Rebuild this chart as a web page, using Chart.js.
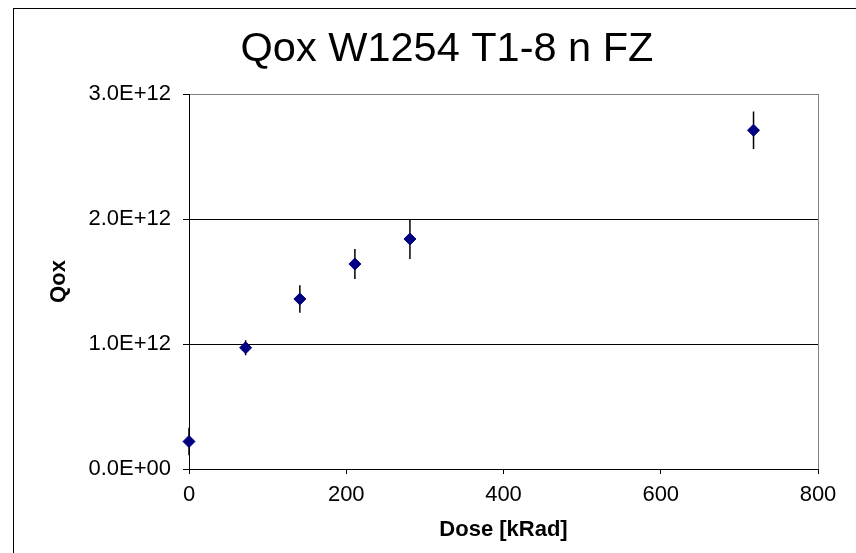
<!DOCTYPE html>
<html>
<head>
<meta charset="utf-8">
<script src="https://cdn.jsdelivr.net/npm/chart.js@4.4.1/dist/chart.umd.min.js"></script>
<style>
  html, body { margin: 0; padding: 0; background: #fff; overflow: hidden; width: 856px; height: 553px; }
  #frame { position: absolute; left: 13px; top: 8px; width: 900px; height: 600px; border: 1px solid #000; }
  #c { position: absolute; left: 0; top: 0; }
</style>
</head>
<body>
<div id="frame"><canvas id="c" width="866" height="560"></canvas></div>
<script>
// data
var doseVals = [0, 72, 141, 211, 281, 718];
var qoxVals = [0.22e12, 0.97e12, 1.36e12, 1.64e12, 1.84e12, 2.71e12];
var qoxErr = [0.11e12, 0.06e12, 0.11e12, 0.12e12, 0.16e12, 0.15e12];
var yTicks = [0, 1e12, 2e12, 3e12];
var xTicks = [0, 200, 400, 600, 800];

var FONT = "'Liberation Sans', Arial, sans-serif";

function sciLabel(v) {
    var s = Number(v).toExponential(1).toUpperCase();
    var parts = s.split('E');
    var exp = parts[1];
    var sign = exp.charAt(0) === '-' ? '-' : '+';
    var digits = exp.replace(/[+-]/, '');
    if (digits.length < 2) digits = '0' + digits;
    return parts[0] + 'E' + sign + digits;
}

// error bars drawn from data through the scales
var errorBars = {
    id: 'errorBars',
    beforeDatasetsDraw: function (chart) {
        var ctx = chart.ctx;
        var xs = chart.scales.x, ys = chart.scales.y;
        ctx.save();
        ctx.strokeStyle = '#000';
        ctx.lineWidth = 1.5;
        for (var i = 0; i < doseVals.length; i++) {
            var px = xs.getPixelForValue(doseVals[i]);
            ctx.beginPath();
            ctx.moveTo(px, ys.getPixelForValue(qoxVals[i] - qoxErr[i]));
            ctx.lineTo(px, ys.getPixelForValue(qoxVals[i] + qoxErr[i]));
            ctx.stroke();
        }
        ctx.restore();
    }
};

// gray frame on right of plot area
var plotFrame = {
    id: 'plotFrame',
    beforeDatasetsDraw: function (chart) {
        var a = chart.chartArea, ctx = chart.ctx;
        ctx.save();
        ctx.strokeStyle = '#808080';
        ctx.lineWidth = 1;
        ctx.beginPath();
        ctx.moveTo(Math.round(a.right) + 0.5, a.top);
        ctx.lineTo(Math.round(a.right) + 0.5, a.bottom);
        ctx.stroke();
        ctx.restore();
    }
};

new Chart(document.getElementById('c'), {
    type: 'scatter',
    data: {
        datasets: [{
            label: 'Qox',
            data: doseVals.map(function (d, i) { return { x: d, y: qoxVals[i] }; }),
            pointStyle: 'rectRot',
            pointRadius: 6,
            pointHoverRadius: 6,
            backgroundColor: '#000080',
            borderColor: '#000080',
            borderWidth: 1,
            clip: false
        }]
    },
    options: {
        responsive: false,
        animation: false,
        events: [],
        layout: {
            autoPadding: false,
            padding: { left: 62, right: 62, top: 0, bottom: 0 }
        },
        plugins: {
            legend: { display: false },
            tooltip: { enabled: false },
            title: {
                display: true,
                text: 'Qox W1254 T1-8 n FZ',
                color: '#000',
                font: { family: FONT, size: 41.5, weight: 'normal', lineHeight: 1.2 },
                padding: { top: 16, bottom: 19.2 }
            }
        },
        scales: {
            x: {
                type: 'linear',
                min: 0,
                max: 800,
                afterBuildTicks: function (s) { s.ticks = xTicks.map(function (v) { return { value: v }; }); },
                afterFit: function (s) { s.height = 100; },
                grid: { drawOnChartArea: false, drawTicks: true, tickLength: 5, tickColor: '#000' },
                border: { display: true, color: '#000', width: 1 },
                ticks: { color: '#000', padding: 8, font: { family: FONT, size: 22 } },
                title: {
                    display: true,
                    text: 'Dose [kRad]',
                    color: '#000',
                    font: { family: FONT, size: 22, weight: 'bold', lineHeight: 1.2 },
                    padding: { top: 0, bottom: 26 }
                }
            },
            y: {
                type: 'linear',
                min: 0,
                max: 3e12,
                afterBuildTicks: function (s) { s.ticks = yTicks.map(function (v) { return { value: v }; }); },
                afterFit: function (s) { s.width = 113; },
                grid: {
                    color: function (c) { return c.tick && c.tick.value === 3e12 ? '#808080' : '#000'; },
                    tickColor: '#000',
                    tickLength: 6,
                    lineWidth: 1
                },
                border: { display: true, color: '#000', width: 1 },
                ticks: {
                    color: '#000',
                    padding: 12,
                    font: { family: FONT, size: 22 },
                    callback: function (v) { return sciLabel(v); }
                },
                title: {
                    display: true,
                    text: 'Qox',
                    color: '#000',
                    font: { family: FONT, size: 22, weight: 'bold', lineHeight: 1.2 },
                    padding: { top: -30, bottom: 0 }
                }
            }
        }
    },
    plugins: [errorBars, plotFrame]
});
</script>
</body>
</html>
